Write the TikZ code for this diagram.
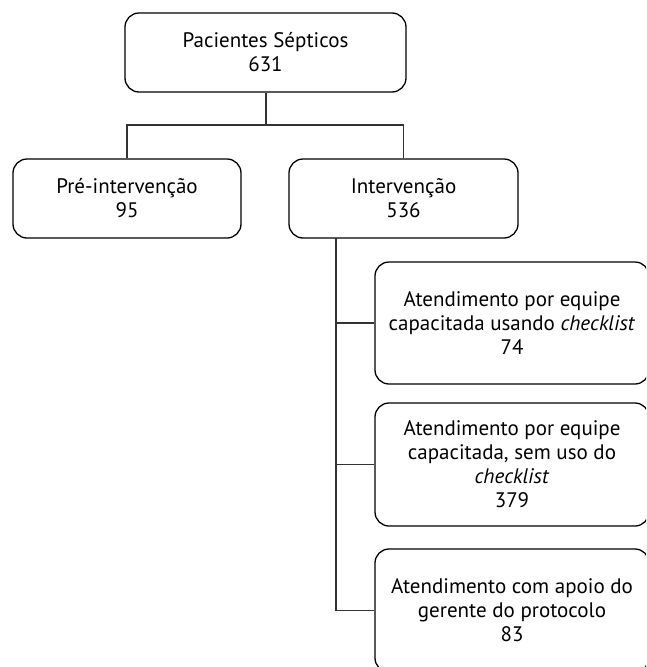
\documentclass[tikz,border=0pt]{standalone}
\usepackage{fontspec}
\setmainfont{PT Sans}
\begin{document}
\begin{tikzpicture}[x=1pt,y=-1pt,
  box/.style={draw=black,line width=1.3pt,rounded corners=14pt,align=center,
    inner sep=0pt,font=\fontsize{21}{24}\selectfont},
  link/.style={draw=black!80,line width=1.2pt}]
\useasboundingbox (0,0) rectangle (646,667);
\clip (0,0) rectangle (646,667);
\node[box,minimum width=281pt,minimum height=79pt] (top) at (265.5,52.5) {Pacientes Sépticos\\631};
\node[box,minimum width=228pt,minimum height=79pt] (pre) at (127,198.5) {Pré-intervenção\\95};
\node[box,minimum width=229pt,minimum height=79pt] (int) at (403.5,198.5) {Intervenção\\536};
\node[box,minimum width=274pt,minimum height=122pt] (c1) at (512,323) {Atendimento por equipe\\capacitada usando \textit{checklist}\\74};
\node[box,minimum width=274pt,minimum height=123pt] (c2) at (512,464.5) {Atendimento por equipe\\capacitada, sem uso do\\\textit{checklist}\\379};
\node[box,minimum width=274pt,minimum height=123pt] (c3) at (512,610.5) {Atendimento com apoio do\\gerente do protocolo\\83};
\coordinate (bar) at (266,125);
\coordinate (stem) at (336,238);
\draw[link] (top.south -| bar) -- (bar);
\draw[link] (pre.north) |- (bar) -| (int.north);
\draw[link] (stem) |- (c3.west);
\draw[link] (stem |- c1.west) -- (c1.west);
\draw[link] (stem |- c2.west) -- (c2.west);
\end{tikzpicture}
\end{document}
